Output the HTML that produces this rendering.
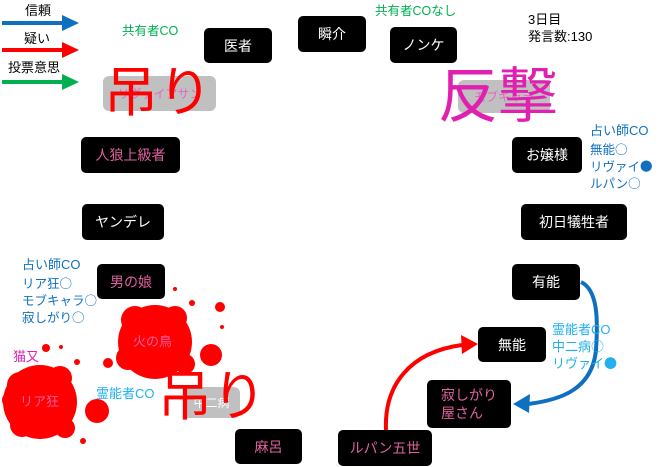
<!DOCTYPE html>
<html><head><meta charset="utf-8"><style>
body{margin:0;width:660px;height:467px;background:#fff;position:relative;overflow:hidden;font-family:"Liberation Sans","Noto Sans CJK JP",sans-serif}
.n{position:absolute;background:#000;border-radius:5px;color:#fff;font-size:14px;display:flex;align-items:center;justify-content:center;text-align:center;line-height:18px}
.p{color:#e060a0}
.t{position:absolute;white-space:nowrap;font-size:12.5px;line-height:16px}
.g{position:absolute;background:#bdbdbd;border-radius:6px;color:#e060c0;font-size:12px;display:flex;align-items:center;justify-content:center;opacity:.95}
.big{position:absolute;font-size:54px;line-height:56px;white-space:nowrap;font-family:"Noto Sans CJK JP",sans-serif;font-weight:400}
.c{font-family:"Noto Sans CJK JP",sans-serif}
</style></head><body>
<svg width="660" height="467" style="position:absolute;left:0;top:0">
<g fill="#ff0000">
<circle cx="155" cy="342" r="37"/><circle cx="135" cy="320" r="14"/><circle cx="175" cy="318" r="12"/><circle cx="128" cy="358" r="12"/><circle cx="185" cy="364" r="10"/>
<circle cx="40" cy="402" r="37"/><circle cx="20" cy="385" r="13"/><circle cx="60" cy="378" r="12"/><circle cx="22" cy="425" r="12"/><circle cx="65" cy="428" r="10"/><circle cx="10" cy="400" r="8"/>
<circle cx="211" cy="355" r="11"/><circle cx="97" cy="411" r="12"/><circle cx="220" cy="307" r="5"/><circle cx="192" cy="303" r="3"/><circle cx="175" cy="289" r="2"/><circle cx="222" cy="327" r="2"/>
<circle cx="108" cy="363" r="5"/><circle cx="46" cy="348" r="4"/><circle cx="61" cy="347" r="2"/><circle cx="77" cy="362" r="3"/><circle cx="83" cy="441" r="3"/>
</g>
<g stroke-width="4" fill="none">
<line x1="2" y1="23" x2="64" y2="23" stroke="#1070c0"/><polygon points="62,15 79,23 62,31" fill="#1070c0"/>
<line x1="2" y1="50" x2="64" y2="50" stroke="#ff0000"/><polygon points="62,42 79,50 62,58" fill="#ff0000"/>
<line x1="2" y1="82" x2="64" y2="82" stroke="#00b050"/><polygon points="62,74 79,82 62,90" fill="#00b050"/>
<path d="M581,282 C598,290 598,320 596,350 C592,390 560,400 528,404" stroke="#1070c0"/>
<polygon points="513,404 530,394 529,413" fill="#1070c0"/>
<path d="M386,430 C384,385 410,352 462,345" stroke="#ff0000"/>
<polygon points="478,344 461,335 462,354" fill="#ff0000"/>
</g>
</svg>
<div class="t" style="left:25px;top:3px;font-size:13px;color:#000">信頼</div>
<div class="t" style="left:24px;top:31px;font-size:13px;color:#000">疑い</div>
<div class="t" style="left:8px;top:60px;font-size:13px;color:#000">投票意思</div>
<div class="t" style="left:122px;top:23px;color:#00b050">共有者CO</div>
<div class="t" style="left:375px;top:3px;color:#00b050">共有者COなし</div>
<div class="t" style="left:528px;top:11px;font-size:13px;color:#000;line-height:17px">3日目<br>発言数:130</div>
<div class="n" style="left:204px;top:28px;width:68px;height:35px">医者</div>
<div class="n" style="left:298px;top:16px;width:68px;height:36px">瞬介</div>
<div class="n" style="left:390px;top:27px;width:67px;height:36px">ノンケ</div>
<div class="g" style="left:103px;top:76px;width:113px;height:35px">リヴァイアサン</div>
<div class="big" style="left:104px;top:60px;color:#ff0000">吊り</div>
<div class="g" style="left:458px;top:80px;width:92px;height:33px">モブキャラ</div>
<div class="big" style="left:438px;top:60px;color:#e020b0;font-size:60px;line-height:64px">反撃</div>
<div class="n p" style="left:81px;top:137px;width:99px;height:36px">人狼上級者</div>
<div class="n" style="left:512px;top:137px;width:70px;height:36px">お嬢様</div>
<div class="t" style="left:590px;top:123px;color:#1070c0;font-size:13px">占い師CO</div>
<div class="t" style="left:590px;top:141px;color:#1070c0;line-height:16px">無能<span class="c">○</span><br>リヴァイ<span class="c">●</span><br>ルパン<span class="c">○</span></div>
<div class="n" style="left:82px;top:204px;width:82px;height:36px">ヤンデレ</div>
<div class="n" style="left:521px;top:204px;width:106px;height:36px">初日犠牲者</div>
<div class="n p" style="left:97px;top:264px;width:68px;height:35px">男の娘</div>
<div class="t" style="left:22px;top:257px;color:#1070c0;font-size:13px">占い師CO</div>
<div class="t" style="left:22px;top:275px;color:#1070c0;line-height:16px">リア狂<span class="c">○</span><br>モブキャラ<span class="c">○</span><br>寂しがり<span class="c">○</span></div>
<div class="n" style="left:512px;top:264px;width:68px;height:36px">有能</div>
<div class="n" style="left:478px;top:327px;width:68px;height:35px">無能</div>
<div class="t" style="left:552px;top:322px;color:#20b0f0;font-size:13px;line-height:16px">霊能者CO<br>中二病<span class="c">○</span><br>リヴァイ<span class="c">●</span></div>
<div class="t" style="left:133px;top:334px;color:#f060a0;font-size:13px">火の鳥</div>
<div class="t" style="left:13px;top:349px;color:#e020b0;font-size:13px">猫又</div>
<div class="t" style="left:20px;top:394px;color:#f060a0;font-size:13px">リア狂</div>
<div class="t" style="left:96px;top:386px;color:#20b0f0;font-size:13px">霊能者CO</div>
<div class="g" style="left:183px;top:387px;width:57px;height:31px;color:#fff">中二病</div>
<div class="big" style="left:158px;top:364px;color:#ff0000">吊り</div>
<div class="n p" style="left:427px;top:380px;width:84px;height:48px;justify-content:flex-start;padding-left:14px;box-sizing:border-box;text-align:left">寂しがり<br>屋さん</div>
<div class="n p" style="left:338px;top:430px;width:94px;height:36px">ルパン五世</div>
<div class="n p" style="left:235px;top:429px;width:67px;height:35px">麻呂</div>
</body></html>
